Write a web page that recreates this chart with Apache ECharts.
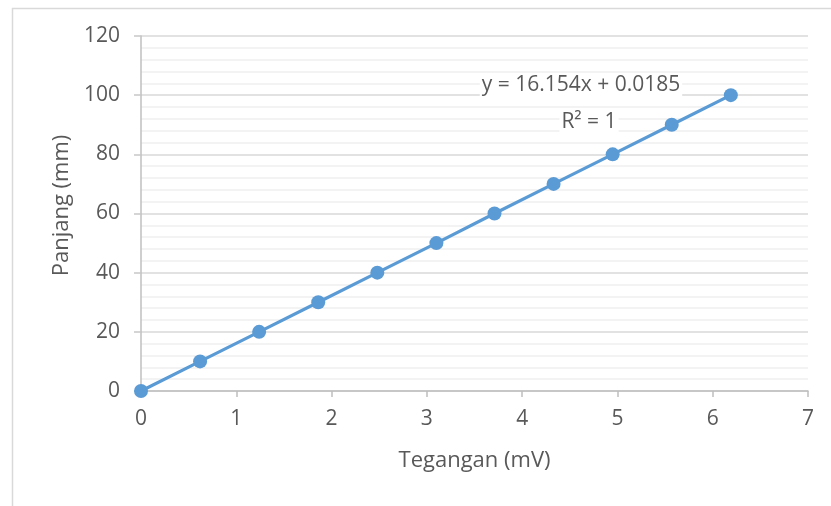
<!DOCTYPE html>
<html>
<head>
<meta charset="utf-8">
<script src="https://cdn.jsdelivr.net/npm/echarts@6/dist/echarts.min.js"></script>
<style>html,body{margin:0;padding:0;background:#fff}#c{width:831px;height:506px}</style>
</head>
<body>
<div id="c"></div>
<script>
var tegangan = [0, 0.62, 1.24, 1.86, 2.48, 3.10, 3.71, 4.33, 4.95, 5.57, 6.19];
var panjang = [0, 10, 20, 30, 40, 50, 60, 70, 80, 90, 100];
var xTicks = [0, 1, 2, 3, 4, 5, 6, 7];
var yTicks = [0, 20, 40, 60, 80, 100, 120];
var equationText = 'y = 16.154x + 0.0185';
var r2Text = 'R\u00B2 = 1';

var pts = tegangan.map(function (x, i) { return [x, panjang[i]]; });
var font = '"Open Sans", "Liberation Sans", sans-serif';
var chart = echarts.init(document.getElementById('c'), null, {renderer: 'canvas'});
chart.setOption({
  animation: false,
  backgroundColor: '#fff',
  grid: {left: 141, right: 23, top: 36, bottom: 115},
  xAxis: {
    type: 'value', min: xTicks[0], max: xTicks[xTicks.length - 1], interval: 1,
    name: 'Tegangan (mV)', nameLocation: 'middle', nameGap: 59,
    nameTextStyle: {color: '#595959', fontSize: 22, fontFamily: font},
    axisLine: {lineStyle: {color: '#bfbfbf', width: 1.5}},
    axisTick: {show: true, length: 6, lineStyle: {color: '#bfbfbf', width: 1.5}},
    axisLabel: {color: '#595959', fontSize: 21, fontFamily: font, margin: 18},
    splitLine: {show: false}
  },
  yAxis: {
    type: 'value', min: yTicks[0], max: yTicks[yTicks.length - 1], interval: 20,
    name: 'Panjang (mm)', nameLocation: 'middle', nameGap: 66, nameRotate: 90,
    nameTextStyle: {color: '#595959', fontSize: 22, fontFamily: font, padding: [0, 0, 0, 16]},
    axisLine: {show: true, lineStyle: {color: '#bfbfbf', width: 1.5}},
    axisTick: {show: true, length: 7, lineStyle: {color: '#c8c8c8', width: 1.5}},
    axisLabel: {color: '#595959', fontSize: 21, fontFamily: font, margin: 21},
    splitLine: {show: true, lineStyle: {color: '#d9d9d9', width: 1.5}},
    minorTick: {show: false, splitNumber: 5},
    minorSplitLine: {show: true, lineStyle: {color: '#efefef', width: 1.5}}
  },
  series: [{
    type: 'line', data: pts, symbol: 'circle', symbolSize: 14,
    lineStyle: {color: '#5b9bd5', width: 3.2},
    itemStyle: {color: '#5b9bd5'},
    z: 3
  }],
  graphic: [
    {type: 'rect', left: 10, top: 6, shape: {width: 900, height: 600},
     style: {fill: 'none', stroke: '#d9d9d9', lineWidth: 1.5}, silent: true, z: -1},
    {type: 'text', x: 581, y: 85, z: 10, style: {text: equationText, fill: '#595959', font: '21px ' + font, textAlign: 'center', textVerticalAlign: 'middle', backgroundColor: '#fff', padding: [1, 2, 0, 2]}},
    {type: 'text', x: 589, y: 122, z: 10, style: {text: r2Text, fill: '#595959', font: '21px ' + font, textAlign: 'center', textVerticalAlign: 'middle', backgroundColor: '#fff', padding: [1, 2, 0, 2]}}
  ]
});
</script>
</body>
</html>
